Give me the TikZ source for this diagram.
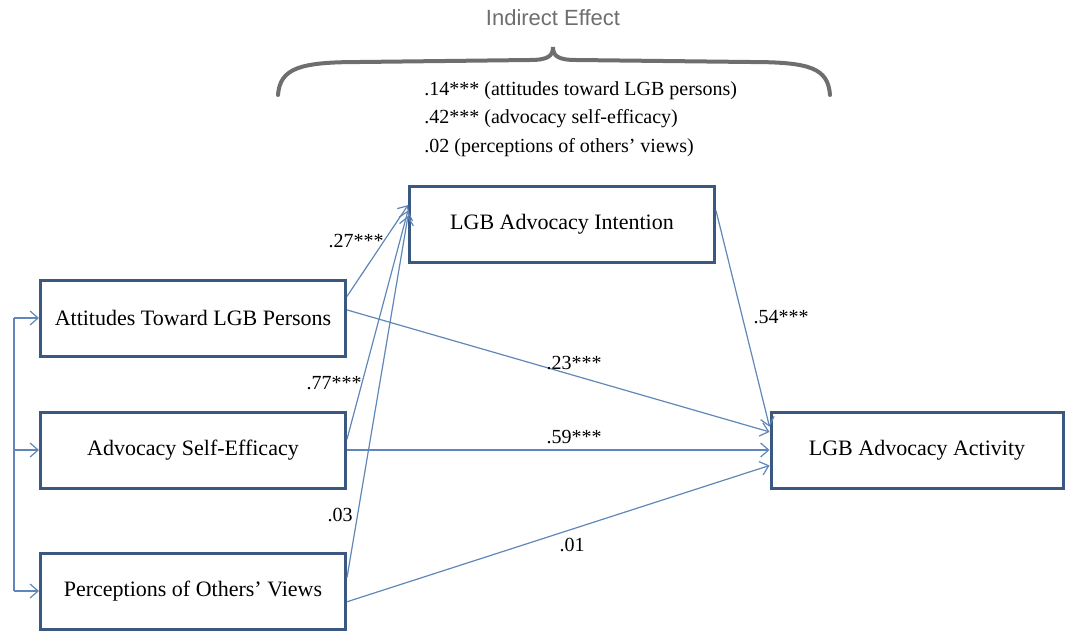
\documentclass[tikz,border=0pt]{standalone}
\usepackage{fontspec}
\setmainfont{Liberation Serif}
\newfontfamily\headsans{Liberation Sans}
\usetikzlibrary{arrows.meta}
\definecolor{boxblue}{RGB}{59,89,128}
\definecolor{linkblue}{RGB}{95,135,185}
\definecolor{bracegray}{RGB}{110,110,110}
\begin{document}
\begin{tikzpicture}[
  x=0.5pt, y=-0.5pt,
  varbox/.style = {shape=rectangle, draw=boxblue, line width=1.5pt,
    minimum width=152.5pt, minimum height=38pt, inner sep=0pt,
    font=\fontsize{11}{13}\selectfont},
  link/.style = {draw=linkblue, line width=0.6pt},
  path/.style = {link, -{Straight Barb[length=4pt,width=7pt]}},
  coef/.style = {font=\fontsize{10}{12}\selectfont, inner sep=1pt},
  effect/.style = {font=\fontsize{10}{12}\selectfont, anchor=base west, inner sep=0pt}
  ]
  \useasboundingbox (0,0) rectangle (1065,631);
  \node[varbox] (att) at (193,318) {Attitudes Toward LGB Persons};
  \node[varbox] (eff) at (193,450) {Advocacy Self-Efficacy};
  \node[varbox] (per) at (193,591) {Perceptions of Others' Views};
  \node[varbox] (int) at (562,224) {LGB Advocacy Intention};
  \node[varbox, minimum width=146pt] (act) at (917,450) {LGB Advocacy Activity};
  \coordinate (ctop) at (14,318);
  \coordinate (cmid) at (14,450);
  \coordinate (cbot) at (14,591);
  \draw[link] (ctop) -- (cbot);
  \draw[path] (ctop) -- (att.west);
  \draw[path] (cmid) -- (eff.west);
  \draw[path] (cbot) -- (per.west);
  \draw[path] (att.8) -- (int.173.6);
  \draw[path] (eff.4.9) -- (int.175.5);
  \draw[path] (per.5.2) -- (int.177);
  \draw[path] (att.3) -- (act.173);
  \draw[path] (eff.east) -- (act.west);
  \draw[path] (per.356.6) -- (act.186.6);
  \draw[path] (int.5.2) -- (act.171.1);
  \node[coef] (c27) at (356,241) {.27***};
  \node[coef] (c77) at (334,383) {.77***};
  \node[coef] (c03) at (340,515) {.03};
  \node[coef] (c23) at (574,363) {.23***};
  \node[coef] (c59) at (574,437) {.59***};
  \node[coef] (c01) at (572,545) {.01};
  \node[coef] (c54) at (781,317) {.54***};
  \draw[bracegray, line width=2pt, line cap=round]
    (278,95) .. controls (280,68) and (300,62) .. (360,62) -- (530,60)
    .. controls (548,60) and (553,56) .. (553,47)
    .. controls (553,56) and (558,60) .. (576,60) -- (750,62)
    .. controls (810,62) and (828,68) .. (830,95);
  \node[text=bracegray, font=\headsans\fontsize{11}{13}\selectfont] (head) at (553,18) {Indirect Effect};
  \node[effect] (ie1) at (424,96) {.14*** (attitudes toward LGB persons)};
  \node[effect] (ie2) at (424,124) {.42*** (advocacy self-efficacy)};
  \node[effect] (ie3) at (424,152) {.02 (perceptions of others' views)};
\end{tikzpicture}
\end{document}
